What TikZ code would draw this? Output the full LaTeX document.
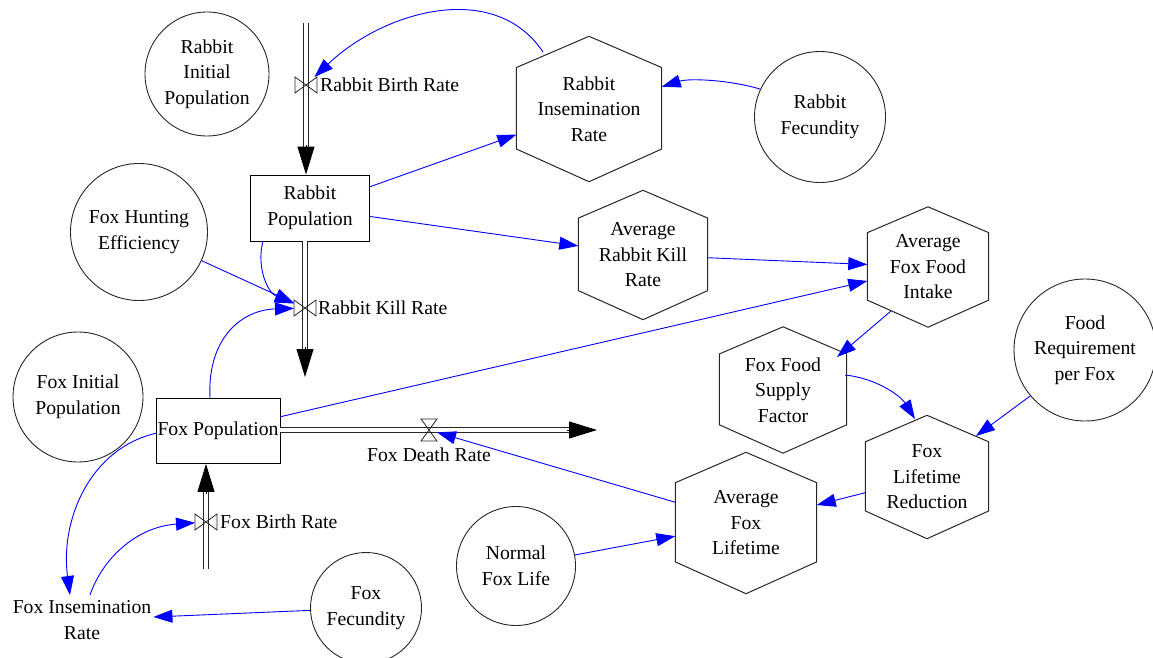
\documentclass[tikz,border=0pt]{standalone}
\usepackage{fontspec}
\setmainfont{Liberation Serif}
\usetikzlibrary{arrows.meta, positioning, calc}
\definecolor{linkblue}{rgb}{0.0, 0.0, 1.0}

\tikzset{
  stock/.style={draw=black, line width=0.9pt, inner sep=1pt, align=center},
  aux/.style={draw=black!85, circle, line width=0.9pt, inner sep=0pt, align=center},
  conv/.style={inner sep=0pt, align=center},
  hexline/.style={draw=black!85, line width=1pt},
  valve/.style={inner sep=0pt, outer sep=0pt, minimum width=22pt, minimum height=16pt},
  hvalve/.style={inner sep=0pt, outer sep=0pt, minimum width=16pt, minimum height=22pt},
  valveline/.style={draw=black!85, line width=0.8pt},
  lbl/.style={inner sep=0pt},
  pipe/.style={draw=black!85, double=white, line width=1.1pt, double distance=3.6pt},
  flowtip/.style={-{Triangle[length=28pt,width=17pt]}, line width=1pt, black},
  link/.style={draw=linkblue, line width=0.9pt, -{Triangle[length=19pt,width=13pt]}}
}

\begin{document}
\begin{tikzpicture}[x=1pt, y=-1pt, font=\fontsize{19.7}{25.5}\selectfont]
      \useasboundingbox (0,0) rectangle (1153,658);

      % Stocks
      \node[stock, minimum width=119pt, minimum height=66pt] (rpop) at (310,208) {Rabbit\\Population};
      \node[stock, minimum width=124pt, minimum height=65pt] (fpop) at (218,431) {Fox Population};

      % Constants
      \node[aux, minimum size=124pt] (rinit) at (207,74) {Rabbit\\Initial\\Population};
      \node[aux, minimum size=137pt] (fhunt) at (139,232) {Fox Hunting\\Efficiency};
      \node[aux, minimum size=130pt] (finit) at (78,397) {Fox Initial\\Population};
      \node[aux, minimum size=111pt] (ffec) at (366,608) {Fox\\Fecundity};
      \node[aux, minimum size=119pt] (nlife) at (516,566) {Normal\\Fox Life};
      \node[aux, minimum size=131pt] (rfec) at (820,117) {Rabbit\\Fecundity};
      \node[aux, minimum size=142pt] (freq) at (1085,350) {Food\\Requirement\\per Fox};
      \node[conv, inner sep=2pt] (fins) at (82,620) {Fox Insemination\\Rate};

      % Converters
      \node[conv, minimum width=145pt, minimum height=145pt] (rins) at (589,109) {Rabbit\\Insemination\\Rate};
      \node[conv, minimum width=129pt, minimum height=129pt] (akill) at (643,255) {Average\\Rabbit Kill\\Rate};
      \node[conv, minimum width=121pt, minimum height=120pt] (affi) at (928,267) {Average\\Fox Food\\Intake};
      \node[conv, minimum width=127pt, minimum height=126pt] (ffsf) at (783,390) {Fox Food\\Supply\\Factor};
      \node[conv, minimum width=123pt, minimum height=123pt] (flr) at (927,477) {Fox\\Lifetime\\Reduction};
      \node[conv, minimum width=141pt, minimum height=141pt] (alife) at (746,523) {Average\\Fox\\Lifetime};
      \foreach \h in {rins, akill, affi, ffsf, flr, alife}
        \draw[hexline] (\h.north) -- ($(\h.north east)!0.215!(\h.south east)$)
          -- ($(\h.north east)!0.775!(\h.south east)$) -- (\h.south)
          -- ($(\h.north west)!0.775!(\h.south west)$)
          -- ($(\h.north west)!0.215!(\h.south west)$) -- cycle;

      % Valves and labels
      \node[valve] (rbirth) at (306,85) {};
      \node[valve] (rkill) at (305,308) {};
      \node[valve] (fbirth) at (206,522) {};
      \node[hvalve] (fdeath) at (429,430) {};
      \node[lbl, right=3pt of rbirth] (rbirthlbl) {Rabbit Birth Rate};
      \node[lbl, right=2pt of rkill] (rkilllbl) {Rabbit Kill Rate};
      \node[lbl, right=3pt of fbirth] (fbirthlbl) {Fox Birth Rate};
      \node[lbl, below=7pt of fdeath] (fdeathlbl) {Fox Death Rate};

      % Flows
      \coordinate (rbsrc) at (306,23);
      \coordinate (rbtip) at (rbsrc |- rpop.north);
      \draw[pipe, shorten >=26pt] (rbsrc) -- (rbtip);
      \draw[flowtip] ([yshift=30pt]rbtip) -- (rbtip);

      \coordinate (rksink) at (305,377);
      \draw[pipe, shorten >=26pt] (rkill |- rpop.south) -- (rksink);
      \draw[flowtip] ([yshift=30pt]rksink) -- (rksink);

      \coordinate (fdsink) at (597,430);
      \draw[pipe, shorten >=26pt] (fpop.east |- fdsink) -- (fdsink);
      \draw[flowtip] ([xshift=-30pt]fdsink) -- (fdsink);

      \coordinate (fbsrc) at (206,569);
      \coordinate (fbtip) at (fbsrc |- fpop.south);
      \draw[pipe, shorten >=26pt] (fbsrc) -- (fbtip);
      \draw[flowtip] ([yshift=-30pt]fbtip) -- (fbtip);

      \foreach \v in {rbirth, rkill, fbirth}
        \draw[valveline] (\v.north west) -- (\v.south east) -- (\v.north east) -- (\v.south west) -- cycle;
      \draw[valveline] (fdeath.north west) -- (fdeath.south east) -- (fdeath.south west) -- (fdeath.north east) -- cycle;

      % Links
      \draw[link] ([shift={(-46,-57)}]rins.center) .. controls (495,-20) and (385,10) .. (rbirth);
      \draw[link] (rfec.155) .. controls (730,80) and (690,78) .. (rins);
      \draw[link] (rpop) -- (rins);
      \draw[link] (rpop) -- (akill);
      \draw[link] (akill) -- (affi);
      \draw[link] (fpop) -- (affi);
      \draw[link] ([shift={(-37,44)}]affi.center) -- ([shift={(54,-33)}]ffsf.center);
      \draw[link] ([shift={(62,-15)}]ffsf.center) .. controls (875,378) and (900,395) .. ([shift={(-12,-58)}]flr.center);
      \draw[link] (freq.220) -- ([shift={(49,-41)}]flr.center);
      \draw[link] (flr) -- (alife);
      \draw[link] (nlife) -- (alife);
      \draw[link] (alife) -- (fdeath);
      \draw[link] (fhunt) -- (rkill);
      \draw[link] ([shift={(-47,33)}]rpop.center) .. controls (256,268) and (268,293) .. (rkill);
      \draw[link] ([shift={(-8,-33)}]fpop.center) .. controls (207,340) and (240,310) .. (rkill);
      \draw[link] ([shift={(-61,2)}]fpop.center) .. controls (90,448) and (60,520) .. ([shift={(-12,-25)}]fins.center);
      \draw[link] ([shift={(8,-25)}]fins.center) .. controls (102,560) and (135,527) .. (fbirth);
      \draw[link] (ffec) -- (fins);
\end{tikzpicture}
\end{document}
